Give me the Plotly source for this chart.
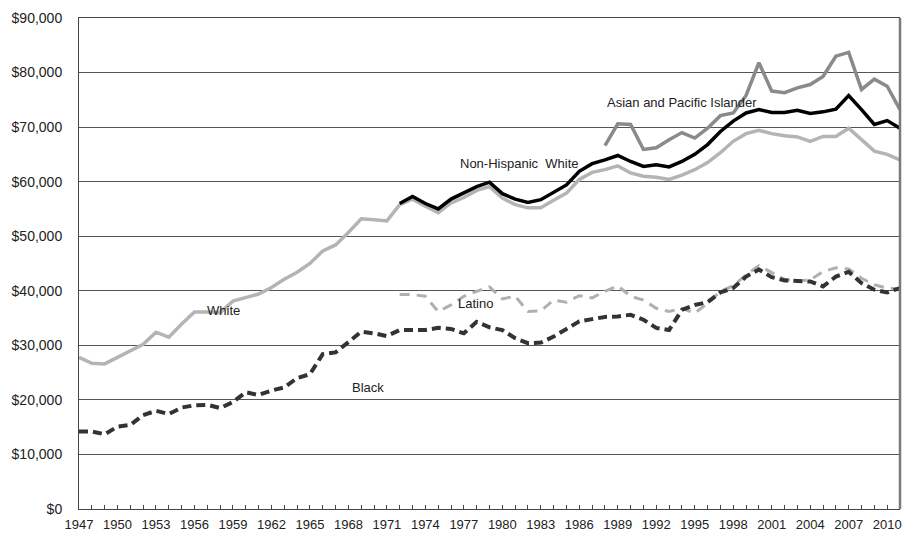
import plotly.graph_objects as go

# Median family income by race/ethnicity, 1947-2011 (constant dollars)
years = list(range(1947, 2012))

white = [27800, 26700, 26600, 27800, 29000, 30200, 32400, 31500, 33900, 36100,
         36100, 36000, 38100, 38800, 39400, 40600, 42100, 43400, 45000, 47300,
         48400, 50700, 53200, 53000, 52800, 55800, 56800, 55500, 54300, 56100,
         57100, 58400, 59100, 57000, 55800, 55200, 55200, 56600, 57900, 60400,
         61700, 62200, 62900, 61600, 61000, 60800, 60400, 61200, 62200, 63500,
         65300, 67400, 68800, 69400, 68800, 68400, 68200, 67400, 68300, 68300,
         69800, 67700, 65600, 65000, 64000]

black = [14200, 14200, 13700, 15100, 15400, 17200, 18000, 17400, 18600, 19000,
         19100, 18500, 19600, 21400, 20900, 21700, 22300, 24000, 24700, 28400,
         28700, 30700, 32500, 32200, 31700, 32800, 32800, 32800, 33200, 33000,
         32200, 34300, 33300, 32800, 31300, 30400, 30500, 31600, 33000, 34400,
         34800, 35200, 35300, 35600, 34700, 33200, 32800, 36500, 37400, 37900,
         39700, 40500, 42600, 43900, 42500, 41900, 41800, 41700, 40800, 42600,
         43500, 41400, 40200, 39700, 40500]

nh_years = list(range(1972, 2012))
non_hispanic_white = [56000, 57300, 56000, 55000, 56800, 57900, 59100, 59900, 57800, 56800,
                      56200, 56700, 58000, 59400, 61900, 63300, 64000, 64800, 63700, 62800,
                      63100, 62700, 63700, 65000, 66800, 69200, 71100, 72600, 73200, 72700,
                      72700, 73100, 72500, 72800, 73300, 75800, 73200, 70500, 71200, 69800]

latino = [39300, 39300, 39000, 36200, 37400, 39000, 39900, 40700, 38500, 39000,
          36200, 36300, 38300, 37900, 39100, 38700, 39900, 40900, 39000, 38300,
          36800, 36200, 36800, 35900, 37700, 39900, 40900, 42900, 44600, 43400,
          42100, 41800, 42000, 43500, 44200, 44000, 42300, 41100, 40500, 40300]

api_years = list(range(1988, 2012))
asian_pacific = [66600, 70600, 70500, 65900, 66200, 67700, 69000, 68000, 69800, 72100,
                 72600, 75800, 81800, 76600, 76300, 77200, 77800, 79300, 83000, 83700,
                 76900, 78800, 77500, 73200]

label_text = ["White", "Black", "Latino", "Non-Hispanic\u00a0 White", "Asian and Pacific Islander"]
label_x = [1958.3, 1969.5, 1977.9, 1981.3, 1994.0]
label_y = [36300, 22200, 37600, 63300, 74500]

x_tick_vals = list(range(1947, 2011, 3))
y_tick_vals = list(range(0, 90001, 10000))
y_tick_text = ["$" + format(v, ",") for v in y_tick_vals]

fig = go.Figure()
fig.add_trace(go.Scatter(x=years, y=white, mode="lines",
                         line=dict(color="#b4b4b4", width=3.5)))
fig.add_trace(go.Scatter(x=api_years, y=asian_pacific, mode="lines",
                         line=dict(color="#8a8a8a", width=3.5)))
fig.add_trace(go.Scatter(x=nh_years, y=non_hispanic_white, mode="lines",
                         line=dict(color="#000000", width=3.5)))
fig.add_trace(go.Scatter(x=nh_years, y=latino, mode="lines",
                         line=dict(color="#b0b0b0", width=3, dash="10px,7px")))
fig.add_trace(go.Scatter(x=years, y=black, mode="lines",
                         line=dict(color="#333333", width=4, dash="9px,5px")))

for t, xv, yv in zip(label_text, label_x, label_y):
    fig.add_annotation(x=xv, y=yv, text=t, showarrow=False,
                       xanchor="center", yanchor="middle",
                       font=dict(family="Liberation Sans, Arial, sans-serif", size=13, color="#222222"))

# heavier right edge of the plot frame
fig.add_shape(type="line", xref="paper", yref="paper", x0=1, x1=1, y0=0, y1=1,
              line=dict(color="#7a7a7a", width=2.5))

fig.update_layout(
    width=906, height=538,
    margin=dict(l=79, r=4, t=18, b=29),
    paper_bgcolor="white", plot_bgcolor="white",
    showlegend=False,
    font=dict(family="Liberation Sans, Arial, sans-serif", size=13, color="#222222"),
)
fig.update_xaxes(
    range=[1947, 2011], tickvals=x_tick_vals, ticktext=[str(v) for v in x_tick_vals],
    showgrid=False, zeroline=False,
    showline=True, linecolor="#444444", linewidth=1, mirror=True,
    ticks="inside", ticklen=4, tickcolor="#444444",
    minor=dict(dtick=1, tick0=1947, ticks="inside", ticklen=4, tickcolor="#444444", showgrid=False),
    tickfont=dict(size=13), ticklabelstandoff=3,
)
fig.update_yaxes(
    range=[0, 90000], tickvals=y_tick_vals, ticktext=y_tick_text,
    showgrid=True, gridcolor="#555555", gridwidth=1, zeroline=False,
    showline=True, linecolor="#444444", linewidth=1,
    ticks="", ticklabelstandoff=13,
    tickfont=dict(size=14),
)

fig.write_html("out.html")
